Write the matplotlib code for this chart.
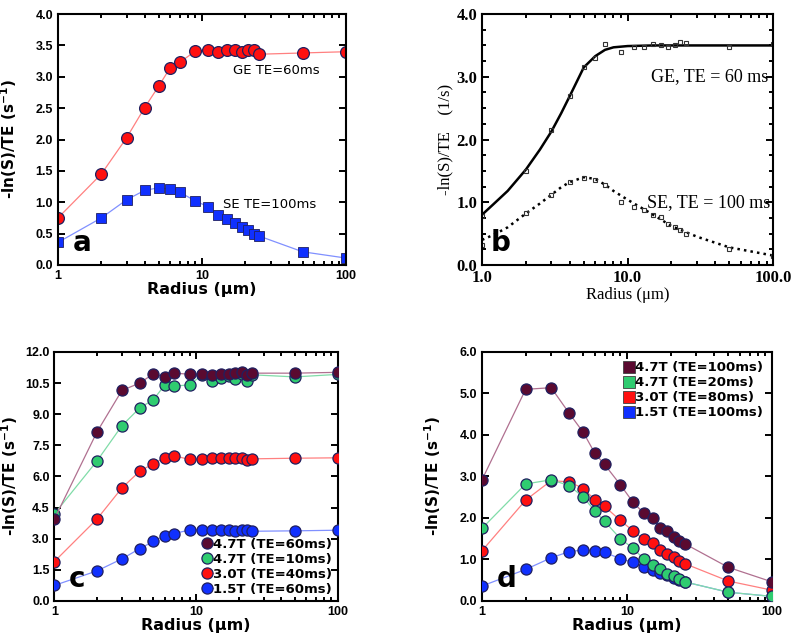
import matplotlib
matplotlib.use('Agg')
import matplotlib.pyplot as plt
from matplotlib.ticker import FixedLocator, NullFormatter, MultipleLocator
from matplotlib.lines import Line2D

# radii used in the simulations (um)
radius = [1, 2, 3, 4, 5, 6, 7, 9, 11, 13, 15, 17, 19, 21, 23, 25, 50, 100]

# panel a
a_ge = [0.75, 1.45, 2.03, 2.51, 2.85, 3.14, 3.23, 3.41, 3.43, 3.40, 3.42, 3.42, 3.39, 3.42, 3.43, 3.36, 3.38, 3.40]
a_se = [0.36, 0.75, 1.04, 1.19, 1.23, 1.21, 1.16, 1.02, 0.93, 0.80, 0.74, 0.67, 0.61, 0.55, 0.50, 0.46, 0.21, 0.11]

# panel b (published reference figure)
b_ge = [0.78, 1.50, 2.15, 2.70, 3.15, 3.30, 3.52, 3.40, 3.47, 3.47, 3.53, 3.50, 3.47, 3.50, 3.55, 3.54, 3.48, 3.52]
b_se = [0.32, 0.83, 1.12, 1.32, 1.38, 1.36, 1.28, 1.00, 0.93, 0.87, 0.80, 0.76, 0.66, 0.60, 0.55, 0.50, 0.25, 0.15]
b_fit_r = [1, 1.2, 1.5, 2, 2.5, 3, 3.5, 4, 5, 6, 7, 8, 10, 15, 20, 30, 50, 100]
b_ge_fit = [0.80, 0.97, 1.18, 1.52, 1.84, 2.13, 2.42, 2.69, 3.15, 3.33, 3.43, 3.47, 3.49, 3.50, 3.50, 3.50, 3.50, 3.50]
b_se_fit = [0.40, 0.48, 0.60, 0.82, 0.98, 1.12, 1.24, 1.32, 1.40, 1.37, 1.28, 1.18, 1.04, 0.80, 0.62, 0.45, 0.28, 0.15]

# panel c: gradient echo at different field strengths
c_labels = ['4.7T (TE=60ms)', '4.7T (TE=10ms)', '3.0T (TE=40ms)', '1.5T (TE=60ms)']
c_vals = [
    [3.95, 8.15, 10.15, 10.5, 10.95, 10.8, 10.98, 10.93, 10.93, 10.9, 10.93, 10.95, 11.0, 11.05, 10.9, 10.98, 10.98, 11.02],
    [4.2, 6.75, 8.45, 9.3, 9.7, 10.4, 10.35, 10.42, 10.88, 10.62, 10.75, 10.85, 10.7, 10.95, 10.6, 10.9, 10.8, 10.92],
    [1.9, 3.95, 5.45, 6.25, 6.62, 6.9, 7.0, 6.82, 6.85, 6.88, 6.9, 6.88, 6.9, 6.88, 6.8, 6.85, 6.88, 6.9],
    [0.75, 1.45, 2.03, 2.52, 2.87, 3.15, 3.25, 3.42, 3.43, 3.41, 3.42, 3.42, 3.39, 3.42, 3.43, 3.36, 3.38, 3.41],
]

# panel d: spin echo at different field strengths
d_labels = ['4.7T (TE=100ms)', '4.7T (TE=20ms)', '3.0T (TE=80ms)', '1.5T (TE=100ms)']
d_vals = [
    [2.92, 5.1, 5.14, 4.52, 4.06, 3.56, 3.29, 2.8, 2.38, 2.12, 2.0, 1.76, 1.68, 1.55, 1.45, 1.38, 0.81, 0.46],
    [1.75, 2.82, 2.92, 2.78, 2.5, 2.17, 1.92, 1.5, 1.27, 1.02, 0.86, 0.76, 0.65, 0.6, 0.52, 0.46, 0.21, 0.11],
    [1.21, 2.43, 2.9, 2.87, 2.71, 2.44, 2.28, 1.94, 1.69, 1.49, 1.39, 1.24, 1.13, 1.07, 0.96, 0.9, 0.48, 0.26],
    [0.36, 0.76, 1.04, 1.19, 1.23, 1.21, 1.17, 1.02, 0.93, 0.81, 0.74, 0.68, 0.62, 0.55, 0.5, 0.46, 0.21, 0.11],
]

fills = ['#5a0a30', '#2fcc70', '#ff1010', '#1030ff']
lines = ['#b07090', '#80dca8', '#ff8080', '#8090ff']
edge = '#202060'
minor_x = [2, 3, 4, 5, 6, 7, 8, 9, 20, 30, 40, 50, 60, 70, 80, 90]

fig = plt.figure(figsize=(8, 6.4), dpi=100)

def style_axes(ax, ymax, ystep, serif=False):
    ax.set_xscale('log')
    ax.set_xlim(1, 100)
    ax.set_ylim(0, ymax)
    yt = [k * ystep for k in range(int(round(ymax / ystep)) + 1)]
    ax.set_yticks(yt)
    ax.set_xticks([1, 10, 100])
    ax.xaxis.set_minor_locator(FixedLocator(minor_x))
    ax.xaxis.set_minor_formatter(NullFormatter())
    ax.tick_params(which='both', direction='in', top=True, right=True, width=1.4)
    ax.tick_params(which='major', length=5)
    ax.tick_params(which='minor', length=3)
    for s in ax.spines.values():
        s.set_linewidth(1.5)
    if serif:
        ax.set_xticklabels(['1.0', '10.0', '100.0'])
        ax.set_yticklabels(['%.1f' % v for v in yt])
        for lab in ax.get_xticklabels() + ax.get_yticklabels():
            lab.set_family('Liberation Serif')
            lab.set_fontsize(12)
            lab.set_fontweight('bold')
    else:
        ax.set_xticklabels(['1', '10', '100'])
        ax.set_yticklabels(['%.1f' % v for v in yt])
        for lab in ax.get_xticklabels() + ax.get_yticklabels():
            lab.set_family('Liberation Sans')
            lab.set_fontsize(9)
            lab.set_fontweight('bold')

def sans_labels(ax, ylab_x):
    ax.set_xlabel('Radius (\u03bcm)', fontsize=11.5, fontweight='bold', labelpad=0)
    ax.set_ylabel('-ln(S)/TE (s$^{\\mathbf{-1}}$)', fontsize=11, fontweight='bold')
    ax.yaxis.set_label_coords(ylab_x, 0.5)

# ---- panel a
ax = fig.add_axes([0.0725, 0.586, 0.36, 0.392])
ax.plot(radius, a_ge, '-o', color=lines[2], lw=0.9, ms=8.5, mfc=fills[2], mec=edge, mew=0.9)
ax.plot(radius, a_se, '-s', color=lines[3], lw=0.9, ms=6.5, mfc=fills[3], mec=edge, mew=0.6)
style_axes(ax, 4.0, 0.5)
sans_labels(ax, -0.135)
ax.text(16.3, 3.1, 'GE TE=60ms', fontsize=9.5, va='center')
ax.text(14, 0.96, 'SE TE=100ms', fontsize=9.5, va='center')
ax.text(0.05, 0.03, 'a', transform=ax.transAxes, fontsize=20, fontweight='bold', va='bottom')

# ---- panel b
ax = fig.add_axes([0.6025, 0.586, 0.364, 0.392])
ax.plot(b_fit_r, b_ge_fit, '-', color='black', lw=1.8)
ax.plot(b_fit_r, b_se_fit, ':', color='black', lw=1.8)
ax.plot(radius, b_ge, 's', ms=3.5, mfc='none', mec='#333333', mew=0.8)
ax.plot(radius, b_se, 's', ms=3.5, mfc='none', mec='#333333', mew=0.8)
style_axes(ax, 4.0, 1.0, serif=True)
ax.yaxis.set_minor_locator(MultipleLocator(0.25))
ax.set_xlabel('Radius (\u03bcm)', family='Liberation Serif', fontsize=12, labelpad=1)
ax.set_ylabel('-ln(S)/TE    (1/s)', family='Liberation Serif', fontsize=12, labelpad=2)
ax.text(92, 3.0, 'GE, TE = 60 ms', family='Liberation Serif', fontsize=13, ha='right', va='center')
ax.text(95, 1.0, 'SE, TE = 100 ms', family='Liberation Serif', fontsize=13, ha='right', va='center')
ax.text(0.03, 0.03, 'b', transform=ax.transAxes, fontsize=20, fontweight='bold', va='bottom')

# ---- panel c
ax = fig.add_axes([0.068, 0.061, 0.354, 0.389])
for i in [3, 2, 1, 0]:
    ax.plot(radius, c_vals[i], '-o', color=lines[i], lw=0.9, ms=8, mfc=fills[i], mec=edge, mew=0.9,
            label=c_labels[i], zorder=3 + (3 - i))
style_axes(ax, 12.0, 1.5)
h, l = ax.get_legend_handles_labels()
ax.legend(h[::-1], l[::-1], loc='lower right', frameon=False,
          prop={'weight': 'bold', 'size': 9.5}, handletextpad=0.05, handlelength=0.8,
          labelspacing=0.15, borderaxespad=0.2, borderpad=0.2)
sans_labels(ax, -0.12)
ax.text(0.05, 0.03, 'c', transform=ax.transAxes, fontsize=20, fontweight='bold', va='bottom')

# ---- panel d
ax = fig.add_axes([0.6025, 0.061, 0.3625, 0.389])
for i in [3, 2, 1, 0]:
    ax.plot(radius, d_vals[i], '-o', color=lines[i], lw=0.9, ms=8, mfc=fills[i], mec=edge, mew=0.9,
            zorder=3 + (3 - i))
handles = [Line2D([], [], ls='none', marker='s', ms=8, mfc=fills[i], mec='#404040', mew=0.6) for i in range(4)]
ax.legend(handles, d_labels, loc='upper right', frameon=False,
          prop={'weight': 'bold', 'size': 9.5}, handletextpad=0.05, handlelength=0.8,
          labelspacing=0.15, borderaxespad=0.3)
style_axes(ax, 6.0, 1.0)
sans_labels(ax, -0.135)
ax.text(0.05, 0.03, 'd', transform=ax.transAxes, fontsize=20, fontweight='bold', va='bottom')

fig.savefig('out.png', dpi=100)
